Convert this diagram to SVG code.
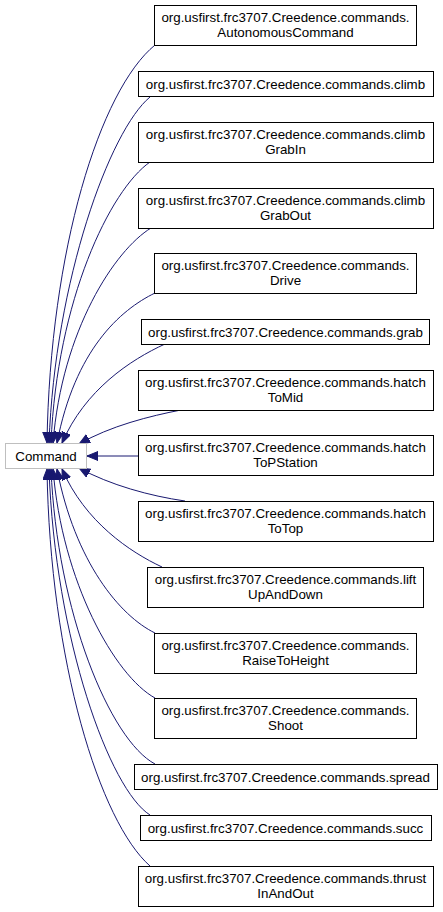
<svg xmlns="http://www.w3.org/2000/svg" width="443" height="912" viewBox="0 0 443 912">
<style>
.n rect{fill:#fff;stroke:#000;stroke-width:1}
.base rect{stroke:#bfbfbf}
text{font-family:"Liberation Sans",Arial,sans-serif;font-size:13.33px;fill:#000;text-anchor:middle}
.e path{fill:none;stroke:#191970;stroke-width:1;marker-end:url(#ah)}
</style>
<defs>
<marker id="ah" markerUnits="userSpaceOnUse" markerWidth="12" markerHeight="10" refX="11" refY="4.5" orient="auto">
<path d="M0,0 L11,4.5 L0,9 Z" fill="#191970" stroke="#191970" stroke-width="1"/>
</marker>
</defs>
<rect width="443" height="912" fill="#fff"/>
<g class="e" id="edges">
<path d="M155,45 C100,90 50,250 47,443"/>
<path d="M150,97 C110,130 55,280 49,443"/>
<path d="M150,162 C110,190 57,300 51,443"/>
<path d="M151,228 C115,250 62,330 53,443"/>
<path d="M155,293 C120,310 75,350 57,443"/>
<path d="M165,344 C130,360 85,390 62,443"/>
<path d="M181,410 C150,416 110,426 79,444"/>
<path d="M138,456 L87,456"/>
<path d="M185,501 C150,496 110,485 79,468"/>
<path d="M162,567 C130,552 85,522 62,469"/>
<path d="M155,633 C120,616 75,562 57,469"/>
<path d="M155,698 C115,676 62,582 53,469"/>
<path d="M155,764 C110,740 57,612 51,469"/>
<path d="M150,815 C110,790 55,640 49,469"/>
<path d="M150,866 C100,822 50,662 47,469"/>
</g>
<g class="n base" id="Command"><rect x="5.5" y="443.5" width="81" height="25"/><text x="46" y="460.5">Command</text></g>
<g class="n" id="AutonomousCommand"><rect x="154.5" y="5.5" width="262" height="40"/><text x="285.5" y="22">org.usfirst.frc3707.Creedence.commands.</text><text x="285.5" y="36.5">AutonomousCommand</text></g>
<g class="n" id="climb"><rect x="138.5" y="71.5" width="295" height="25"/><text x="285.5" y="88.5">org.usfirst.frc3707.Creedence.commands.climb</text></g>
<g class="n" id="climbGrabIn"><rect x="138.5" y="122.5" width="295" height="40"/><text x="285.5" y="139">org.usfirst.frc3707.Creedence.commands.climb</text><text x="285.5" y="153.5">GrabIn</text></g>
<g class="n" id="climbGrabOut"><rect x="138.5" y="188.5" width="295" height="40"/><text x="285.5" y="205">org.usfirst.frc3707.Creedence.commands.climb</text><text x="285.5" y="219.5">GrabOut</text></g>
<g class="n" id="Drive"><rect x="154.5" y="253.5" width="262" height="40"/><text x="285.5" y="270">org.usfirst.frc3707.Creedence.commands.</text><text x="285.5" y="284.5">Drive</text></g>
<g class="n" id="grab"><rect x="141.5" y="319.5" width="288" height="25"/><text x="285.5" y="336.5">org.usfirst.frc3707.Creedence.commands.grab</text></g>
<g class="n" id="hatchToMid"><rect x="138.5" y="370.5" width="295" height="40"/><text x="285.5" y="387">org.usfirst.frc3707.Creedence.commands.hatch</text><text x="285.5" y="401.5">ToMid</text></g>
<g class="n" id="hatchToPStation"><rect x="138.5" y="435.5" width="295" height="40"/><text x="285.5" y="452">org.usfirst.frc3707.Creedence.commands.hatch</text><text x="285.5" y="466.5">ToPStation</text></g>
<g class="n" id="hatchToTop"><rect x="138.5" y="501.5" width="295" height="40"/><text x="285.5" y="518">org.usfirst.frc3707.Creedence.commands.hatch</text><text x="285.5" y="532.5">ToTop</text></g>
<g class="n" id="liftUpAndDown"><rect x="147.5" y="567.5" width="276" height="40"/><text x="285.5" y="584">org.usfirst.frc3707.Creedence.commands.lift</text><text x="285.5" y="598.5">UpAndDown</text></g>
<g class="n" id="RaiseToHeight"><rect x="154.5" y="633.5" width="262" height="40"/><text x="285.5" y="650">org.usfirst.frc3707.Creedence.commands.</text><text x="285.5" y="664.5">RaiseToHeight</text></g>
<g class="n" id="Shoot"><rect x="154.5" y="698.5" width="262" height="40"/><text x="285.5" y="715">org.usfirst.frc3707.Creedence.commands.</text><text x="285.5" y="729.5">Shoot</text></g>
<g class="n" id="spread"><rect x="134.5" y="764.5" width="303" height="25"/><text x="285.5" y="781.5">org.usfirst.frc3707.Creedence.commands.spread</text></g>
<g class="n" id="succ"><rect x="140.5" y="815.5" width="291" height="25"/><text x="285.5" y="832.5">org.usfirst.frc3707.Creedence.commands.succ</text></g>
<g class="n" id="thrustInAndOut"><rect x="138.5" y="866.5" width="295" height="40"/><text x="285.5" y="883">org.usfirst.frc3707.Creedence.commands.thrust</text><text x="285.5" y="897.5">InAndOut</text></g>
</svg>
